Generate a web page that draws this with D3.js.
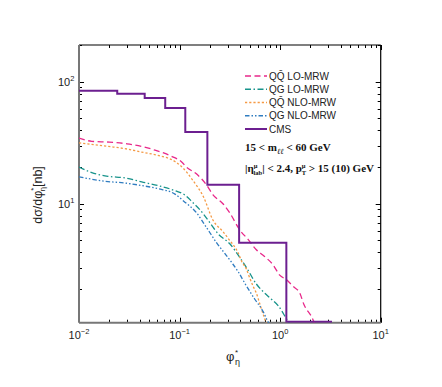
<!DOCTYPE html>
<html>
<head>
<meta charset="utf-8">
<script src="https://cdn.jsdelivr.net/npm/d3@7"></script>
<style>
  body { margin: 0; background: #fff; }
  svg { display: block; font-family: "Liberation Sans", Arial, sans-serif; }
</style>
</head>
<body>
<div id="chart"></div>
<script>
// CMS histogram (bin edges + values)
var cmsEdges = [0.004, 0.024, 0.045, 0.072, 0.114, 0.189, 0.391, 1.153, 3.277];
var cmsVals  = [84.4, 79.8, 73.5, 60.8, 38.7, 14.3, 4.8, 1.08];

// model curves
var qqLoX  = [0.01, 0.0134, 0.02, 0.03, 0.042, 0.057, 0.083, 0.105, 0.117, 0.148, 0.185, 0.214, 0.27, 0.316, 0.397, 0.48, 0.58, 0.70, 0.85, 0.99, 1.16, 1.35, 1.57, 1.72, 2.06, 2.2];
var qqLoY  = [34.5, 32.5, 32, 31, 29.5, 27.5, 24.5, 22, 20, 17.5, 14.3, 11.9, 10, 8.4, 6.1, 5.1, 4.2, 3.7, 3.16, 2.6, 2.38, 2.1, 1.85, 1.5, 1.18, 1.05];

var qgLoX  = [0.01, 0.0134, 0.0194, 0.0286, 0.042, 0.061, 0.09, 0.113, 0.136, 0.158, 0.2, 0.24, 0.316, 0.4, 0.463, 0.58, 0.68, 0.82, 0.95, 1.15, 1.25];
var qgLoY  = [20, 18, 16.8, 16.3, 15.1, 14.1, 12.8, 11.8, 10.2, 9.0, 7.0, 5.7, 4.7, 3.6, 3.0, 2.2, 1.9, 1.65, 1.47, 1.15, 1.03];

var qqNloX = [0.01, 0.0194, 0.0286, 0.042, 0.061, 0.09, 0.109, 0.136, 0.172, 0.214, 0.27, 0.316, 0.38, 0.413, 0.463, 0.5, 0.54, 0.58, 0.63, 0.70, 0.74];
var qqNloY = [31.5, 29.5, 28.3, 26.5, 24.9, 22.2, 19.5, 15.5, 11.5, 7.4, 5.9, 5.0, 4.0, 3.4, 2.9, 2.45, 2.1, 1.85, 1.5, 1.15, 1.02];

var qgNloX = [0.01, 0.0194, 0.0286, 0.042, 0.061, 0.09, 0.11, 0.148, 0.185, 0.233, 0.29, 0.33, 0.38, 0.45, 0.56, 0.68, 0.74, 0.78];
var qgNloY = [16.6, 15.2, 14.8, 14.1, 13.3, 12.0, 10.5, 8.4, 6.4, 4.8, 3.8, 3.3, 2.8, 2.2, 1.65, 1.3, 1.12, 1.03];

var legendLabels = ["QQ\u0304 LO-MRW", "QG LO-MRW", "QQ\u0304 NLO-MRW", "QG NLO-MRW", "CMS"];

var W = 442, H = 387;
var pL = 79, pR = 380.7, pT = 45, pB = 322.7;

var x = d3.scaleLog().domain([0.01, 10]).range([pL, pR]);
var y = d3.scaleLog().domain([1.06, 200]).range([pB, pT]);

var svg = d3.select('#chart').append('svg')
    .attr('width', W).attr('height', H);

svg.append('clipPath').attr('id', 'clip')
  .append('rect').attr('x', pL).attr('y', pT)
  .attr('width', pR - pL).attr('height', pB - pT);

function isMajor(v) {
  var l = Math.log10(v);
  return Math.abs(l - Math.round(l)) < 1e-6;
}

// ticks, all pointing inward
var xTicks = x.ticks();
var yTicks = y.ticks();
var g = svg.append('g').attr('stroke', '#000').attr('stroke-width', 1);
xTicks.forEach(function(t) {
  var len = isMajor(t) ? 5 : 3;
  var px = Math.round(x(t)) + 0.5;
  g.append('line').attr('x1', px).attr('x2', px).attr('y1', pB).attr('y2', pB - len);
  g.append('line').attr('x1', px).attr('x2', px).attr('y1', pT).attr('y2', pT + len);
});
yTicks.forEach(function(t) {
  var len = isMajor(t) ? 5 : 3;
  var py = Math.round(y(t)) + 0.5;
  g.append('line').attr('y1', py).attr('y2', py).attr('x1', pL).attr('x2', pL + len);
  g.append('line').attr('y1', py).attr('y2', py).attr('x1', pR).attr('x2', pR - len);
});

// frame
svg.append('line').attr('x1', pL).attr('x2', pR).attr('y1', pT).attr('y2', pT)
  .attr('stroke', '#000').attr('stroke-width', 1.2);
svg.append('line').attr('x1', pR).attr('x2', pR).attr('y1', pT).attr('y2', pB)
  .attr('stroke', '#000').attr('stroke-width', 1.2);
svg.append('line').attr('x1', pL).attr('x2', pR).attr('y1', pB).attr('y2', pB)
  .attr('stroke', '#777').attr('stroke-width', 2);
svg.append('line').attr('x1', pL).attr('x2', pL).attr('y1', pT).attr('y2', pB)
  .attr('stroke', '#777').attr('stroke-width', 2);

// tick labels
xTicks.filter(isMajor).forEach(function(t) {
  var e = Math.round(Math.log10(t));
  var txt = svg.append('text').attr('x', x(t)).attr('y', 339)
    .attr('text-anchor', 'middle').attr('font-size', 11).attr('fill', '#222');
  txt.append('tspan').text('10');
  txt.append('tspan').attr('dy', -5).attr('font-size', 7.5).text(e < 0 ? '\u2212' + (-e) : e);
});
yTicks.filter(isMajor).forEach(function(t) {
  var e = Math.round(Math.log10(t));
  var txt = svg.append('text').attr('x', 58).attr('y', y(t) + 4)
    .attr('font-size', 11).attr('fill', '#222');
  txt.append('tspan').text('10');
  txt.append('tspan').attr('dy', -5).attr('font-size', 7.5).text(e);
});

// axis titles
var xl = svg.append('text').attr('x', 226).attr('y', 361).attr('font-size', 13).attr('fill', '#222');
xl.append('tspan').text('\u03c6');
xl.append('tspan').attr('dy', -6).attr('dx', 0.5).attr('font-size', 8).text('*');
xl.append('tspan').attr('dy', 10).attr('dx', -3).attr('font-size', 9).text('\u03b7');

var yl = svg.append('text').attr('transform', 'translate(42,195) rotate(-90)')
  .attr('text-anchor', 'middle').attr('font-size', 12.5).attr('fill', '#222');
yl.append('tspan').text('d\u03c3/d\u03c6');
yl.append('tspan').attr('dy', -6).attr('font-size', 8).text('*');
yl.append('tspan').attr('dy', 9).attr('dx', -4).attr('font-size', 8).text('\u03b7');
yl.append('tspan').attr('dy', -3).text('[nb]');

// curves
var series = [
  {xs: qqLoX,  ys: qqLoY,  color: '#e8288a', dash: '6,3.5', w: 1.3},
  {xs: qgLoX,  ys: qgLoY,  color: '#17938b', dash: '6,2.5,1.5,2.5', w: 1.3},
  {xs: qqNloX, ys: qqNloY, color: '#f59a45', dash: '2.2,2', w: 1.3},
  {xs: qgNloX, ys: qgNloY, color: '#2f7cc0', dash: '4.5,2,1.5,2,1.5,2', w: 1.3}
];

var line = d3.line().x(function(d) { return x(d[0]); }).y(function(d) { return y(d[1]); })
  .curve(d3.curveMonotoneX);

var plot = svg.append('g').attr('clip-path', 'url(#clip)');
series.forEach(function(s) {
  plot.append('path')
    .datum(d3.zip(s.xs, s.ys))
    .attr('d', line)
    .attr('fill', 'none')
    .attr('stroke', s.color)
    .attr('stroke-width', s.w)
    .attr('stroke-dasharray', s.dash);
});

// CMS step histogram
var cmsPts = cmsVals.map(function(v, i) { return [cmsEdges[i], v]; });
cmsPts.push([cmsEdges[cmsEdges.length - 1], cmsVals[cmsVals.length - 1]]);
plot.append('path')
  .datum(cmsPts)
  .attr('d', d3.line().x(function(d) { return x(d[0]); }).y(function(d) { return y(d[1]); })
    .curve(d3.curveStepAfter))
  .attr('fill', 'none').attr('stroke', '#6c1f90').attr('stroke-width', 2);

// legend
var legStyles = series.concat([{color: '#6c1f90', dash: null, w: 2}]);
legendLabels.forEach(function(lbl, i) {
  var ly = 76 + i * 13.25;
  var s = legStyles[i];
  svg.append('line').attr('x1', 245).attr('x2', 267).attr('y1', ly).attr('y2', ly)
    .attr('stroke', s.color).attr('stroke-width', s.w)
    .attr('stroke-dasharray', s.dash);
  svg.append('text').attr('x', 269).attr('y', ly + 3.5).attr('font-size', 10)
    .attr('fill', '#222').text(lbl);
});

// annotations
var a1 = svg.append('text').attr('x', 245).attr('y', 151)
  .attr('font-family', '"Liberation Serif", "Times New Roman", serif')
  .attr('font-weight', 'bold').attr('font-size', 11).attr('fill', '#111');
a1.append('tspan').text('15 < m');
a1.append('tspan').attr('dy', 3).attr('font-size', 8).attr('font-style', 'italic').text('\u2113\u2113');
a1.append('tspan').attr('dy', -3).text(' < 60 GeV');

var a2 = svg.append('text').attr('x', 245).attr('y', 172)
  .attr('font-family', '"Liberation Serif", "Times New Roman", serif')
  .attr('font-weight', 'bold').attr('font-size', 11).attr('fill', '#111');
a2.append('tspan').text('|\u03b7');
a2.append('tspan').attr('dy', -4).attr('font-size', 6.5).text('\u03bc');
a2.append('tspan').attr('dy', 7).attr('dx', -3.8).attr('font-size', 6.5).text('lab');
a2.append('tspan').attr('dy', -3).text('| < 2.4, p');
a2.append('tspan').attr('dy', -4).attr('font-size', 6.5).text('\u03bc');
a2.append('tspan').attr('dy', 7).attr('dx', -3.8).attr('font-size', 6.5).text('T');
a2.append('tspan').attr('dy', -3).text(' > 15 (10) GeV');
</script>
</body>
</html>
